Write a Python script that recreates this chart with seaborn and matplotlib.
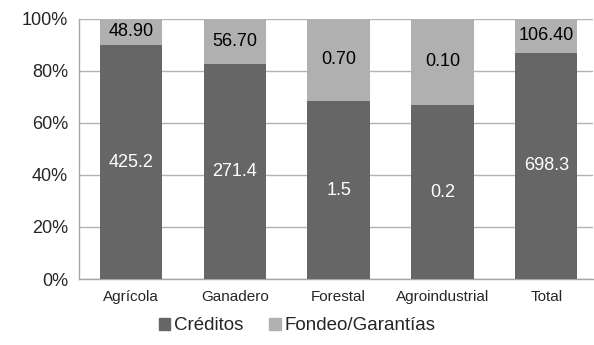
import matplotlib
matplotlib.use("Agg")
import matplotlib.pyplot as plt
import pandas as pd
import seaborn as sns

categories = ["Agrícola", "Ganadero", "Forestal", "Agroindustrial", "Total"]
creditos = [425.2, 271.4, 1.5, 0.2, 698.3]
fondeo = [48.90, 56.70, 0.70, 0.10, 106.40]

dark = "#666666"
light = "#b0b0b0"

df = pd.DataFrame({"categoria": categories, "creditos": creditos, "fondeo": fondeo})
df["total"] = df["creditos"] + df["fondeo"]
df["pct_cred"] = df["creditos"] / df["total"] * 100
df["pct_full"] = 100.0

sns.set_style("white")
plt.rcParams["font.family"] = ["Liberation Sans", "DejaVu Sans"]

fig = plt.figure(figsize=(5.94, 3.45), dpi=100)
ax = fig.add_axes([79 / 594, 66 / 345, (593 - 79) / 594, (279 - 18.5) / 345])

sns.barplot(data=df, x="categoria", y="pct_full", color=light, width=0.6,
            saturation=1, linewidth=0, ax=ax, zorder=2)
sns.barplot(data=df, x="categoria", y="pct_cred", color=dark, width=0.6,
            saturation=1, linewidth=0, ax=ax, zorder=3)

for i, row in df.iterrows():
    ax.text(i, row["pct_cred"] / 2, f"{row['creditos']:.1f}", ha="center",
            va="center", color="white", fontsize=13, zorder=4)
    ax.text(i, (row["pct_cred"] + 100) / 2, f"{row['fondeo']:.2f}", ha="center",
            va="center", color="black", fontsize=13, zorder=4)

ax.set_ylim(0, 100)
ax.set_xlim(-0.5, 4.45)
ax.set_yticks(range(0, 101, 20))
ax.set_yticklabels([f"{v}%" for v in range(0, 101, 20)], fontsize=13)
ax.tick_params(axis="x", labelsize=11, length=0, pad=8)
ax.tick_params(axis="y", length=5, width=1, color="#a6a6a6", pad=3)
ax.yaxis.grid(True, color="#b3b3b3", linewidth=1, zorder=0)
ax.set_axisbelow(True)
ax.set_xlabel("")
ax.set_ylabel("")
for side in ["top", "right"]:
    ax.spines[side].set_visible(False)
for side in ["left", "bottom"]:
    ax.spines[side].set_color("#a6a6a6")
    ax.spines[side].set_linewidth(1)

handles = [
    plt.Rectangle((0, 0), 1, 1, color=dark),
    plt.Rectangle((0, 0), 1, 1, color=light),
]
fig.legend(handles, ["Créditos", "Fondeo/Garantías"], loc="center",
           bbox_to_anchor=(0.5, 1 - 326 / 345), ncol=2, frameon=False,
           fontsize=13.5, handlelength=0.6, handleheight=0.6,
           handletextpad=0.2, columnspacing=1.4)

fig.savefig("out.png", dpi=100)
